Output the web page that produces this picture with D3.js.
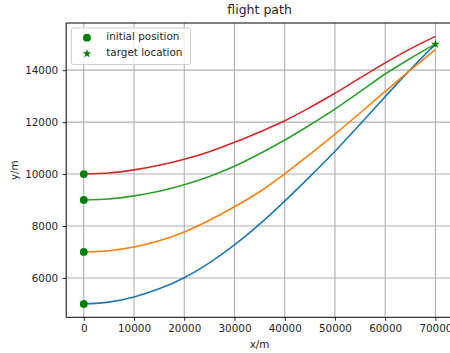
<!DOCTYPE html>
<html>
<head>
<meta charset="utf-8">
<script src="https://cdn.jsdelivr.net/npm/d3@7"></script>
<style>
  body { margin: 0; background: #fff; }
  svg { display: block; font-family: "DejaVu Sans", sans-serif; }
</style>
</head>
<body>
<div class="chart"></div>
<script>
let xs = [0, 5000, 10000, 15000, 20000, 25000, 30000, 35000, 40000, 45000, 50000, 55000, 60000, 65000, 70000];

// y (m) of each flight path
let path1 = [5000, 5070, 5270, 5580, 6010, 6580, 7270, 8070, 8960, 9900, 10880, 11920, 12980, 14020, 15000];
let path2 = [7000, 7050, 7190, 7430, 7770, 8220, 8740, 9320, 10010, 10760, 11540, 12350, 13180, 14000, 14790];
let path3 = [9000, 9040, 9160, 9340, 9590, 9910, 10300, 10780, 11310, 11890, 12500, 13170, 13850, 14450, 15010];
let path4 = [10000, 10040, 10160, 10340, 10570, 10860, 11220, 11620, 12050, 12560, 13110, 13700, 14280, 14820, 15300];

let startY = [5000, 7000, 9000, 10000];
let target = [70000, 15000];

let xTicks = [0, 10000, 20000, 30000, 40000, 50000, 60000, 70000];
let yTicks = [6000, 8000, 10000, 12000, 14000];

let lineColors = ["#1f77b4", "#ff7f0e", "#2ca02c", "#d62728"];
let legendNames = ["initial position", "target location"];

let W = 450, H = 353;
let pLeft = 66.2, pRight = 453, pTop = 23, pBottom = 317.3;

let svg = d3.select(".chart")
    .append("svg")
    .attr("width", W)
    .attr("height", H)

let series = [path1, path2, path3, path4];
let allY = [].concat(...series);
let yMin = d3.min(allY), yMax = d3.max(allY);
let yPad = (yMax - yMin) * 0.05;

let x = d3.scaleLinear().domain([-3500, 73500]).range([pLeft, pRight]);
let y = d3.scaleLinear().domain([yMin - yPad, yMax + yPad]).range([pBottom, pTop]);

// grid
svg.append("g")
    .selectAll("line")
    .data(xTicks)
    .enter()
    .append("line")
    .attr("x1", d => x(d)).attr("x2", d => x(d))
    .attr("y1", pTop).attr("y2", pBottom)
    .attr("stroke", "#b0b0b0")
    .attr("stroke-width", 1.1)

svg.append("g")
    .selectAll("line")
    .data(yTicks)
    .enter()
    .append("line")
    .attr("x1", pLeft).attr("x2", pRight)
    .attr("y1", d => y(d)).attr("y2", d => y(d))
    .attr("stroke", "#b0b0b0")
    .attr("stroke-width", 1.1)

// paths
let line = d3.line()
    .x((d, i) => x(xs[i]))
    .y(d => y(d))
    .curve(d3.curveCatmullRom.alpha(0.5))

svg.append("g")
    .selectAll("path")
    .data(series)
    .enter()
    .append("path")
    .attr("d", d => line(d))
    .attr("fill", "none")
    .attr("stroke", (d, i) => lineColors[i])
    .attr("stroke-width", 1.6)

// start markers
svg.append("g")
    .selectAll("circle")
    .data(startY)
    .enter()
    .append("circle")
    .attr("cx", x(0))
    .attr("cy", d => y(d))
    .attr("r", 3.9)
    .attr("fill", "#008000")

let star = d3.symbol().type(d3.symbolStar).size(24);
svg.append("path")
    .attr("d", star())
    .attr("transform", "translate(" + x(target[0]) + "," + y(target[1]) + ")")
    .attr("fill", "#008000")

// spines
svg.append("line")
    .attr("x1", pLeft).attr("x2", pRight).attr("y1", pTop).attr("y2", pTop)
    .attr("stroke", "#000").attr("stroke-width", 1)
svg.append("line")
    .attr("x1", pLeft).attr("x2", pRight).attr("y1", pBottom).attr("y2", pBottom)
    .attr("stroke", "#000").attr("stroke-width", 1)
svg.append("line")
    .attr("x1", pLeft).attr("x2", pLeft).attr("y1", pTop).attr("y2", pBottom)
    .attr("stroke", "#000").attr("stroke-width", 1)

// axes
let xAxis = svg.append("g")
    .attr("transform", "translate(0," + pBottom + ")")
    .call(d3.axisBottom(x).tickValues(xTicks).tickSize(3.5).tickPadding(4).tickFormat(d3.format("d")))
xAxis.select(".domain").remove();

let yAxis = svg.append("g")
    .attr("transform", "translate(" + pLeft + ",0)")
    .call(d3.axisLeft(y).tickValues(yTicks).tickSize(3.5).tickPadding(4.5).tickFormat(d3.format("d")))
yAxis.select(".domain").remove();

svg.selectAll(".tick text")
    .attr("font-size", 10.4)
    .attr("font-family", "DejaVu Sans")
    .attr("fill", "#262626")
svg.selectAll(".tick line").attr("stroke", "#262626")

// labels
svg.append("text")
    .attr("x", (pLeft + pRight) / 2)
    .attr("y", 14)
    .attr("text-anchor", "middle")
    .attr("font-size", 12.5)
    .attr("fill", "#262626")
    .text("flight path")

svg.append("text")
    .attr("x", (pLeft + pRight) / 2)
    .attr("y", 347.5)
    .attr("text-anchor", "middle")
    .attr("font-size", 10.4)
    .attr("fill", "#262626")
    .text("x/m")

svg.append("text")
    .attr("transform", "translate(17.5," + ((pTop + pBottom) / 2) + ") rotate(-90)")
    .attr("text-anchor", "middle")
    .attr("font-size", 10.4)
    .attr("fill", "#262626")
    .text("y/m")

// legend
let lg = svg.append("g")
lg.append("rect")
    .attr("x", 71.5).attr("y", 28)
    .attr("width", 119).attr("height", 36.5)
    .attr("rx", 2)
    .attr("fill", "#fff").attr("fill-opacity", 0.8)
    .attr("stroke", "#d0d0d0").attr("stroke-width", 1)

lg.append("circle")
    .attr("cx", 87).attr("cy", 37.7).attr("r", 3.9)
    .attr("fill", "#008000")
lg.append("path")
    .attr("d", star())
    .attr("transform", "translate(87,53.7)")
    .attr("fill", "#008000")

lg.selectAll("text")
    .data(legendNames)
    .enter()
    .append("text")
    .attr("x", 106.3)
    .attr("y", (d, i) => 40.3 + i * 16)
    .attr("font-size", 10.4)
    .attr("fill", "#262626")
    .text(d => d)
</script>
</body>
</html>
